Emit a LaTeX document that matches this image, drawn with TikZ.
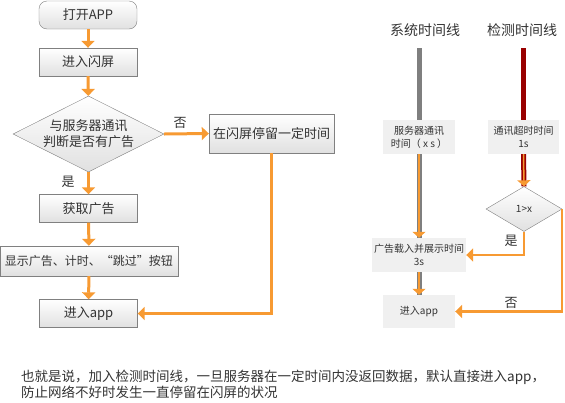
\documentclass[tikz,border=0pt]{standalone}
\usepackage{fontspec}
\setmainfont{Noto Sans CJK SC}
\usetikzlibrary{shapes.geometric, arrows.meta, positioning}
\definecolor{flow}{HTML}{F79A32}
\definecolor{boxline}{HTML}{808080}
\definecolor{sysgray}{HTML}{7F7F7F}
\definecolor{chkred}{HTML}{990000}

\begin{document}
\begin{tikzpicture}[
    x=1pt, y=-1pt,
    every node/.style={font=\fontsize{13}{16}\selectfont, text=black!80},
    box/.style={rectangle, draw=boxline, top color=white, bottom color=black!12, minimum width=98pt, minimum height=28pt, align=center, inner sep=2pt},
    decision/.style={diamond, aspect=2, draw=boxline, top color=white, bottom color=black!12, inner sep=0pt, align=center},
    note/.style={rectangle, fill=black!6, minimum width=72pt, minimum height=34pt, align=center, inner sep=1pt, font=\fontsize{10}{13}\selectfont},
    title/.style={font=\fontsize{14}{16}\selectfont},
    answer/.style={font=\fontsize{13}{16}\selectfont},
    arrow/.style={-{Triangle[width=13pt,length=7pt]}, draw=flow, line width=3pt},
    thinarrow/.style={-{Triangle[width=13pt,length=6pt]}, draw=flow, line width=1.5pt},
    sysline/.style={draw=sysgray, line width=5pt},
    chkline/.style={draw=chkred, line width=5pt}
]
\useasboundingbox (0,0) rectangle (565,402);

% Left flow
\node[box, rounded corners=8pt] (open) at (88,15) {打开APP};
\node[box] (splash) at (88,62) {进入闪屏};
\node[decision, minimum width=151pt, minimum height=76pt] (check) at (88.5,134) {与服务器通讯\\判断是否有广告};
\node[box, minimum width=125pt, minimum height=39pt] (stay) at (271.5,133.5) {在闪屏停留一定时间};
\node[box] (getad) at (88.5,208.5) {获取广告};
\node[box, minimum width=178pt, minimum height=30pt, inner sep=0pt, font=\fontsize{12}{16}\selectfont] (show) at (89,261) {显示广告、计时、“跳过”按钮};
\node[box] (enter) at (88.5,313.5) {进入app};

\node[answer] (no1) at (180,123) {否};
\node[answer] (yes1) at (68,182) {是};

\draw[arrow] (open) -- (splash);
\draw[arrow] (splash) -- (check);
\draw[arrow] (check.east) -- (stay.west);
\draw[arrow] (check.south) -- (getad.north);
\draw[arrow] (getad) -- (show);
\draw[arrow] (show) -- (enter);
\draw[arrow] (stay.south) |- (enter.east);

% Timelines
\node[title] (systitle) at (425,30) {系统时间线};
\node[title] (chktitle) at (522,30) {检测时间线};
\coordinate (systop) at (419,48);
\coordinate (chktop) at (523.5,48);

\node[note] (sysbox) at (419,137) {服务器通讯\\时间（ x s ）};
\node[note, minimum width=71pt] (chkbox) at (523.5,137) {通讯超时时间\\1s};
\node[note, minimum width=94pt] (loadbox) at (419,255) {广告载入并展示时间\\3s};
\node[note, minimum height=33pt] (appbox) at (419,311.5) {进入app};
\node[decision, minimum width=76pt, minimum height=45pt, font=\fontsize{10}{13}\selectfont] (judge) at (524,209) {1>x};

\draw[sysline] (systop) -- (sysbox.north);
\draw[sysline] (sysbox.south) -- (loadbox.north);
\draw[sysline] (loadbox.south) -- (appbox.north);
\draw[chkline] (chktop) -- (chkbox.north);
\draw[chkline] (chkbox.south) -- (judge.north);
\draw[thinarrow] (sysbox.south) -- (loadbox.north);
\draw[thinarrow] (loadbox.south) -- (appbox.north);
\draw[thinarrow] (chkbox.south) -- (judge.north);

\draw[arrow, line width=2.5pt] (judge.south) |- (loadbox.east);
\draw[arrow, line width=2.5pt] (judge.east) |- (appbox.east);
\node[answer] (yes2) at (511,241) {是};
\node[answer] (no2) at (511,303) {否};

% Summary
\node[anchor=west, align=left, inner sep=0pt, font=\fontsize{13.5}{16}\selectfont] (summary) at (21,384)
    {也就是说，加入检测时间线，一旦服务器在一定时间内没返回数据，默认直接进入app，\\防止网络不好时发生一直停留在闪屏的状况};
\end{tikzpicture}
\end{document}
